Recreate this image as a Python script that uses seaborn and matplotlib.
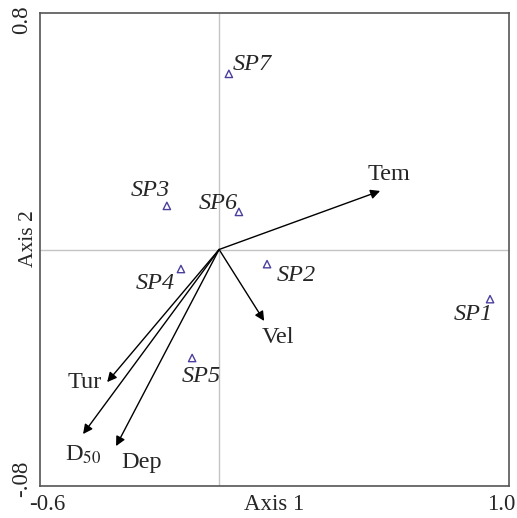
import numpy as np
import pandas as pd
import matplotlib
matplotlib.use('Agg')
import matplotlib.pyplot as plt
import matplotlib.transforms as mtransforms
import seaborn as sns

# datos de sitios (puntuaciones de muestras)
sitios = ['SP1', 'SP2', 'SP3', 'SP4', 'SP5', 'SP6', 'SP7']
eje1 = [0.944, 0.167, -0.182, -0.133, -0.094, 0.069, 0.034]
eje2 = [-0.173, -0.051, 0.152, -0.068, -0.378, 0.131, 0.612]
# posiciones de las etiquetas de sitios
lab_x = [0.885, 0.268, -0.241, -0.223, -0.063, -0.004, 0.116]
lab_y = [-0.228, -0.092, 0.207, -0.117, -0.441, 0.162, 0.643]

# variables ambientales (vectores)
variables = ['Tem', 'Vel', 'Tur', 'D$_{50}$', 'Dep']
var_x = [0.561, 0.157, -0.390, -0.474, -0.359]
var_y = [0.204, -0.249, -0.462, -0.643, -0.685]
var_lx = [0.592, 0.206, -0.467, -0.474, -0.269]
var_ly = [0.260, -0.308, -0.462, -0.716, -0.741]

df = pd.DataFrame({'sitio': sitios, 'x': eje1, 'y': eje2})

sns.set_style('white')
plt.rcParams['font.family'] = ['Liberation Serif', 'DejaVu Serif']
plt.rcParams['mathtext.fontset'] = 'stix'

fig = plt.figure(figsize=(5.17, 5.18), dpi=100)
ax = fig.add_axes([40 / 517, 32 / 518, 469 / 517, 473 / 518])

ax.axvline(0, color='#c4c4c4', lw=1, zorder=0)
ax.axhline(0, color='#c4c4c4', lw=1, zorder=0)

sns.scatterplot(data=df, x='x', y='y', marker='^', s=28, facecolors='none',
                edgecolor='#4a3f9e', linewidth=1, ax=ax, zorder=3)

for s, lx, ly in zip(sitios, lab_x, lab_y):
    ax.text(lx, ly, s, fontsize=17.5, style='italic', ha='center', va='center')

for v, vx, vy, lx, ly in zip(variables, var_x, var_y, var_lx, var_ly):
    ax.annotate('', xy=(vx, vy), xytext=(0, 0),
                arrowprops=dict(arrowstyle='-|>', color='black', lw=1,
                                mutation_scale=14, shrinkA=0, shrinkB=0))
    ax.text(lx, ly, v, fontsize=17.5, ha='center', va='center')

ax.set_xlim(-0.624, 1.01)
ax.set_ylim(-0.824, 0.824)
xt = np.round(np.arange(-0.6, 1.01, 0.2), 1)
yt = np.round(np.arange(-0.8, 0.81, 0.2), 1)
ax.set_xticks(xt)
ax.set_xticklabels(['-0.6'] + [''] * 7 + ['1.0'])
ax.set_yticks(yt)
ax.set_yticklabels(['-.08'] + [''] * 7 + ['0.8'])
ax.tick_params(axis='both', direction='out', length=4, width=1,
               color='#555555', labelsize=16.5, pad=2)
ax.tick_params(axis='y', labelrotation=90)
for lbl in ax.get_yticklabels():
    lbl.set_va('center')
# desplazar "1.0" un poco a la izquierda para que no se corte
ultimo = ax.get_xticklabels()[-1]
ultimo.set_transform(ultimo.get_transform() +
                     mtransforms.ScaledTranslation(-5 / 100, 0, fig.dpi_scale_trans))

for sp in ax.spines.values():
    sp.set_color('#555555')
    sp.set_linewidth(1.2)

ax.set_xlabel('')
ax.set_ylabel('')
ax.text(0.5, -0.04, 'Axis 1', transform=ax.transAxes, fontsize=16.5,
        ha='center', va='center')
ax.text(-0.024, 0.522, 'Axis 2', transform=ax.transAxes, fontsize=15.5,
        ha='center', va='center', rotation=90)

fig.savefig('out.png', dpi=100)
